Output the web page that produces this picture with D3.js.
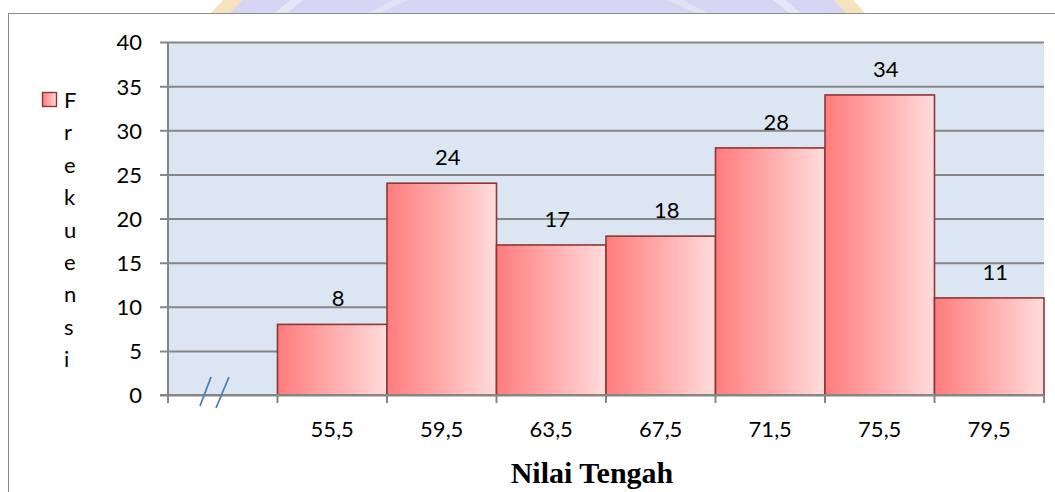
<!DOCTYPE html>
<html>
<head>
<meta charset="utf-8">
<script src="https://cdn.jsdelivr.net/npm/d3@7"></script>
<style>
  html, body { margin: 0; padding: 0; background: #fff; }
  svg { display: block; }
  text { font-family: Lato, "Open Sans", sans-serif; fill: #000; }
</style>
</head>
<body>
<svg id="chart" width="1055" height="492"></svg>
<script>
// Frequency by class midpoint
const categories = ["55,5", "59,5", "63,5", "67,5", "71,5", "75,5", "79,5"];
const frekuensi = [8, 24, 17, 18, 28, 34, 11];
const yTicks = [0, 5, 10, 15, 20, 25, 30, 35, 40];
const legendLabel = "Frekuensi";
const xTitle = "Nilai Tengah";

const svg = d3.select("#chart");
const W = 1055, H = 492;
const plot = { left: 168, right: 1044, top: 42, bottom: 395 };

// faint emblem showing above the chart frame
const defs = svg.append("defs");
defs.append("clipPath").attr("id", "topStrip")
  .append("rect").attr("x", 0).attr("y", 0).attr("width", W).attr("height", 13);
const emblem = svg.append("g").attr("clip-path", "url(#topStrip)");
emblem.append("circle").attr("cx", 538).attr("cy", 300).attr("r", 428)
  .attr("fill", "#d6d6f4").attr("stroke", "#f6e2bc").attr("stroke-width", 14);
emblem.append("circle").attr("cx", 538).attr("cy", 300).attr("r", 385)
  .attr("fill", "none").attr("stroke", "#e6e6f8").attr("stroke-width", 8);
emblem.append("circle").attr("cx", 538).attr("cy", 300).attr("r", 330)
  .attr("fill", "none").attr("stroke", "#e2e2f7").attr("stroke-width", 6);

// chart frame
svg.append("rect").attr("x", 8.5).attr("y", 13.5).attr("width", W + 10).attr("height", H)
  .attr("fill", "#fff").attr("stroke", "#8c8c8c").attr("stroke-width", 1);

// scales
const x = d3.scaleBand().domain(["", ...categories])
  .range([plot.left, plot.right]).paddingInner(0).paddingOuter(0);
const y = d3.scaleLinear().domain([0, 40]).range([plot.bottom, plot.top]);

// plot background
svg.append("rect").attr("x", plot.left).attr("y", plot.top)
  .attr("width", plot.right - plot.left).attr("height", plot.bottom - plot.top)
  .attr("fill", "#dce6f2");

// horizontal gridlines + y labels
const yAxis = d3.axisLeft(y).tickValues(yTicks)
  .tickSize(-(plot.right - plot.left) - 8)
  .tickPadding(18)
  .tickFormat(d3.format("d"));
const gy = svg.append("g").attr("transform", `translate(${plot.left - 8},0)`).call(yAxis);
gy.select(".domain").remove();
gy.selectAll(".tick line").attr("stroke", "#868686").attr("stroke-width", 2)
  .attr("x1", 0).attr("x2", plot.right - plot.left + 8);
gy.selectAll(".tick text").attr("font-size", 22).attr("x", -18)
  .attr("dy", "0.36em").style("font-family", "Lato, sans-serif");

// bar gradient
const grad = defs.append("linearGradient").attr("id", "barFill")
  .attr("x1", "0%").attr("x2", "100%").attr("y1", "0%").attr("y2", "0%");
grad.append("stop").attr("offset", "0%").attr("stop-color", "#ff7c7c");
grad.append("stop").attr("offset", "55%").attr("stop-color", "#ffb0b0");
grad.append("stop").attr("offset", "100%").attr("stop-color", "#ffdcdc");

// bars
svg.append("g").selectAll("rect")
  .data(categories.map((c, i) => ({ c, v: frekuensi[i] })))
  .join("rect")
  .attr("x", d => x(d.c))
  .attr("y", d => y(d.v))
  .attr("width", x.bandwidth())
  .attr("height", d => y(0) - y(d.v))
  .attr("fill", "url(#barFill)")
  .attr("stroke", "#8e3636")
  .attr("stroke-width", 1.6);

// value labels
svg.append("g").selectAll("text")
  .data(categories.map((c, i) => ({ c, v: frekuensi[i] })))
  .join("text")
  .attr("x", d => x(d.c) + x.bandwidth() / 2 + 6)
  .attr("y", d => y(d.v) - 18)
  .attr("text-anchor", "middle")
  .attr("font-size", 22)
  .text(d => d.v);

// y axis line
svg.append("line").attr("x1", plot.left).attr("x2", plot.left)
  .attr("y1", plot.top).attr("y2", plot.bottom + 8)
  .attr("stroke", "#868686").attr("stroke-width", 2);

// x axis line, boundary ticks and category labels
svg.append("line").attr("x1", plot.left - 8).attr("x2", plot.right)
  .attr("y1", plot.bottom).attr("y2", plot.bottom)
  .attr("stroke", "#868686").attr("stroke-width", 2);
const bounds = x.domain().map(d => x(d)).concat([plot.right]);
svg.append("g").selectAll("line").data(bounds).join("line")
  .attr("x1", d => d).attr("x2", d => d)
  .attr("y1", plot.bottom).attr("y2", plot.bottom + 8)
  .attr("stroke", "#868686").attr("stroke-width", 2);

const xAxis = d3.axisBottom(x).tickValues(categories).tickSize(0).tickPadding(0);
const gx = svg.append("g").attr("transform", `translate(0,${plot.bottom})`).call(xAxis);
gx.select(".domain").remove();
gx.selectAll(".tick text").attr("font-size", 22).attr("y", 42).attr("dy", 0)
  .style("font-family", "Lato, sans-serif");

// axis break marks
const brk = svg.append("g").attr("stroke", "#4a7ebb").attr("stroke-width", 1.8);
brk.append("line").attr("x1", 200).attr("y1", 406).attr("x2", 211).attr("y2", 377);
brk.append("line").attr("x1", 216).attr("y1", 408).attr("x2", 229).attr("y2", 377);

// legend: swatch and vertically stacked label
const lg = svg.append("g");
lg.append("rect").attr("x", 42.5).attr("y", 92.5).attr("width", 14).attr("height", 14)
  .attr("fill", "url(#barFill)").attr("stroke", "#8e3636").attr("stroke-width", 1.4);
lg.selectAll("text").data(legendLabel.split("")).join("text")
  .attr("x", 64).attr("y", (d, i) => 108 + i * 32.4)
  .attr("font-size", 22)
  .text(d => d);

// x axis title
svg.append("text").attr("x", 592).attr("y", 483)
  .attr("text-anchor", "middle")
  .style("font-family", "'Liberation Serif', 'Times New Roman', serif")
  .attr("font-weight", "bold").attr("font-size", 30)
  .text(xTitle);
</script>
</body>
</html>
